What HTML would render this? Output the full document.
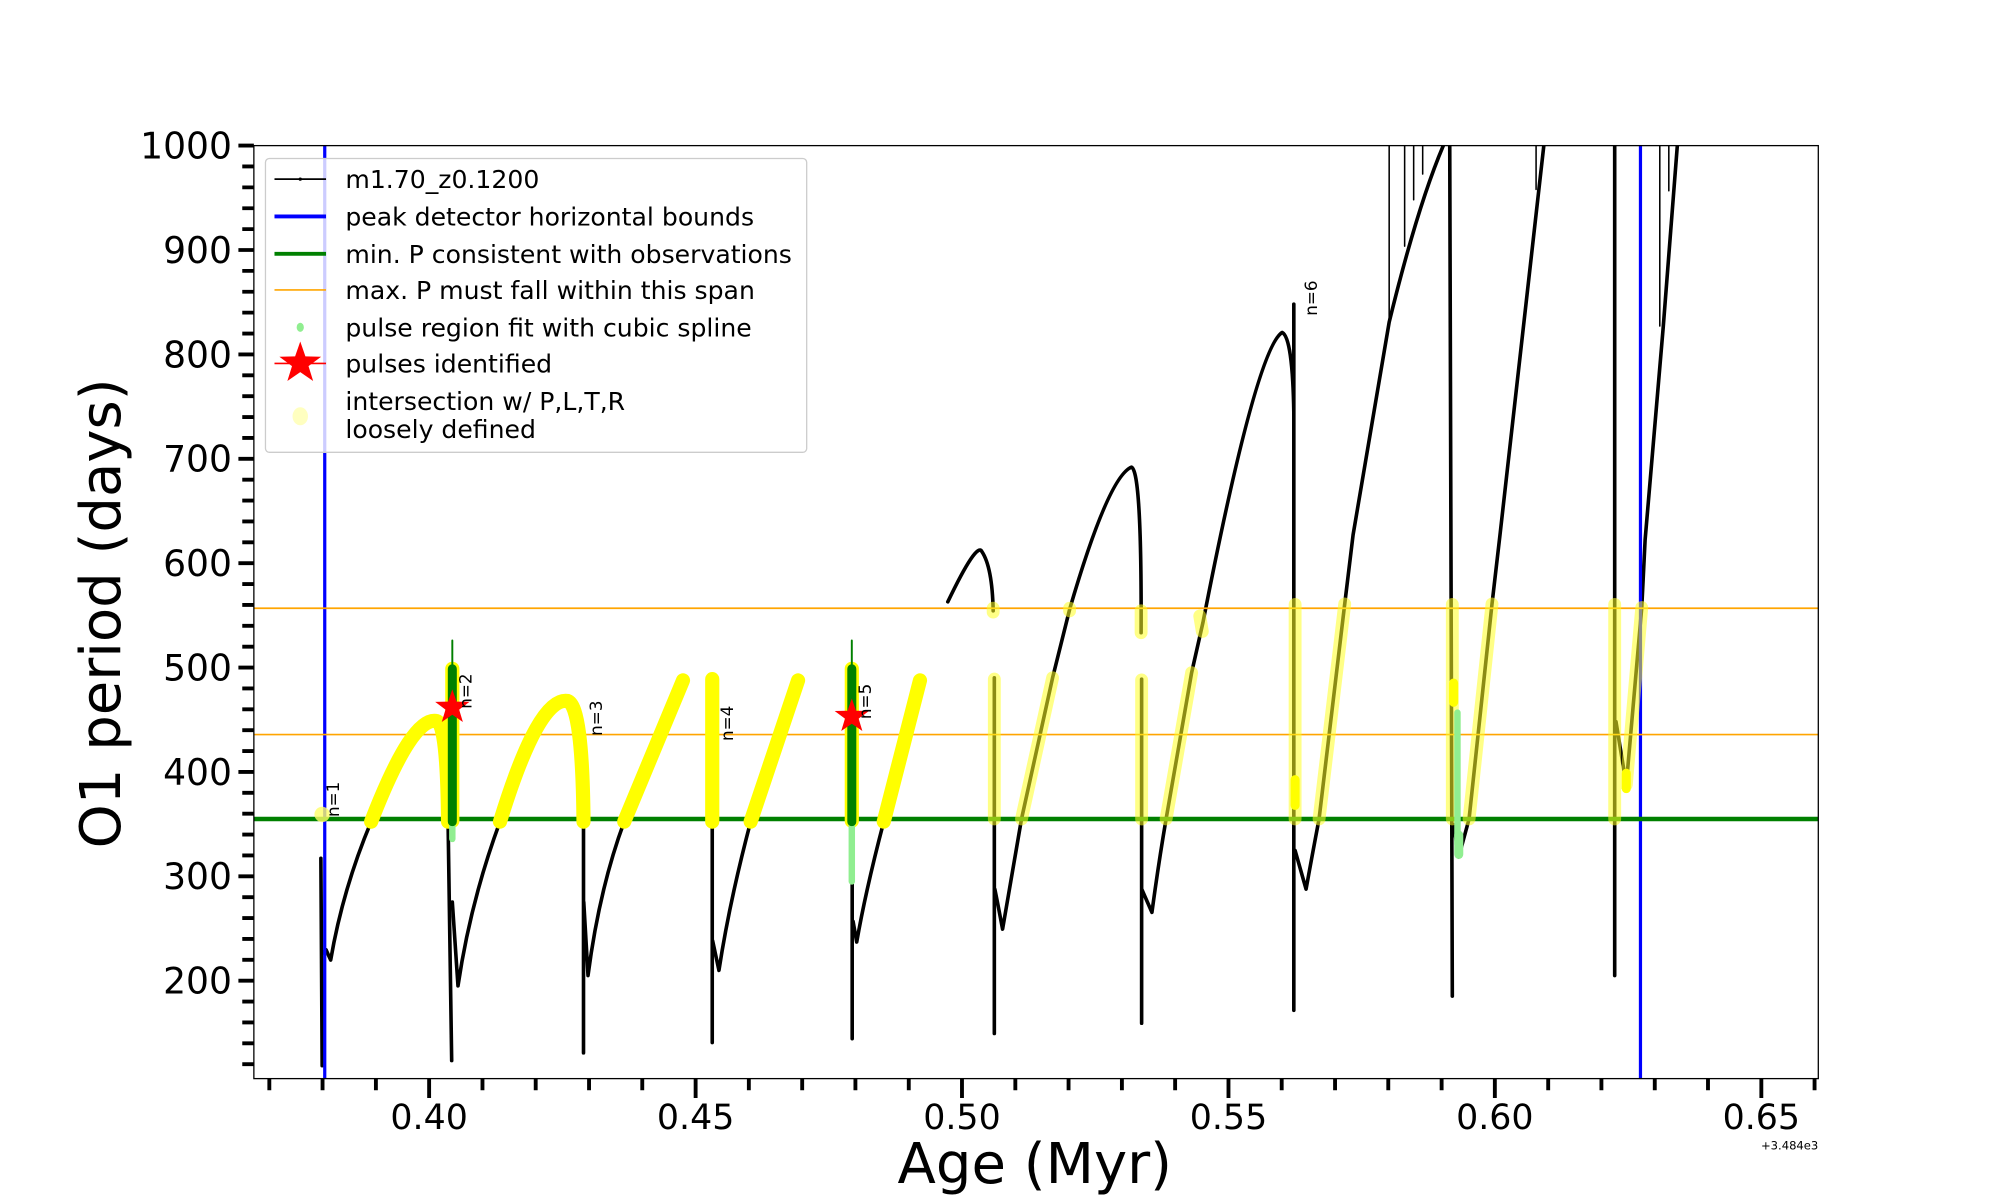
<!DOCTYPE html>
<html><head><meta charset="utf-8"><style>html,body{margin:0;padding:0;background:#fff}svg{display:block}</style></head>
<body>
<svg width="2000" height="1200" viewBox="0 0 1552 931.2" xmlns="http://www.w3.org/2000/svg" font-family="'DejaVu Sans','Liberation Sans',sans-serif">
<defs><clipPath id="c"><rect x="197" y="113" width="1214" height="724"/></clipPath></defs>
<rect width="1552" height="932" fill="#fff"/>
<g clip-path="url(#c)" fill="none" stroke-linecap="round" stroke-linejoin="round">
<g stroke="#000" stroke-width="2.8">
<path d="M249,666 L250,827 M250,740 L253,737 L256.6,745 Q266,690 288,637.6 Q320,555 339,559.6 Q347,562 347.7,637.6 L350.5,823"/>
<path d="M351,700 L355.4,765 Q365,700 388,637.6 Q418,540 440.6,544 Q452,548 452.8,637.6 L452.8,817 M453,700 L456.3,757 Q465,690 484.4,637.6 L530,528"/>
<path d="M552.7,527 L552.7,809 M553,730 L557.9,753 Q566,700 582.5,637.6 L619.3,528"/>
<path d="M661.3,519 L661.3,806 M662,715 L664.8,731 Q672,690 685.8,637.6 L713.9,528"/>
<path d="M735.5,467 Q758,420 761.9,428 Q770,440 770.7,474 M771.6,526 L771.6,802 M772,690 L774,700 L778,721 Q785,680 792.7,635.5 L816.8,526 L830,473 Q860,370 878,362.5 Q886,365 885.5,491 M885.9,527 L885.9,794 M886,690 L893.9,708 Q899,670 904.9,635.5 L924.7,522 L933.5,483 Q975,270 995,258 Q1003,262 1004,320 M1004,236 L1004,784 M1005,660 L1013.5,690 Q1018,665 1023.6,635.5 L1043.5,468.7 L1050,415 L1078,250 Q1100,160 1120,113"/>
<path d="M1125,113 L1127,773 M1128,640 L1132,665 L1140,635.5 L1157.8,468.7 L1164,415 L1198,113"/>
<path d="M1253,113 L1253,757 M1254,560 L1262,609 L1274,471.5 L1276.6,419 L1290.7,253.4 L1301.6,113"/>
</g>
<g stroke="#000" stroke-width="1.2">
<path d="M1078,113 V249 M1090,113 V191 M1097,113 V155 M1104,113 V135 M1192,113 V147 M1288,113 V253 M1295,113 V148"/>
</g>
<path d="M252,113 V837 M1273,113 V837" stroke="#0000ff" stroke-width="2.5"/>
<path d="M197,635.5 H1411" stroke="#008000" stroke-width="3.5"/>
<path d="M197,472 H1411 M197,570 H1411" stroke="#ffa500" stroke-width="1.3"/>
<g stroke="#ffff00" stroke-width="11">
<path d="M288,637.6 Q320,555 339,559.6 Q347,562 347.7,637.6"/>
<path d="M351,519 L351,637"/>
<path d="M388,637.6 Q418,540 440.6,544 Q452,548 452.8,637.6"/>
<path d="M484.4,637.6 L530,528"/>
<path d="M552.7,527 L552.7,637.6 M582.5,637.6 L619.3,528"/>
<path d="M661,519 L661,637 M685.8,637.6 L713.9,528"/>
</g>
<circle cx="250" cy="632" r="6" fill="#ffff66" opacity="0.8"/>
<g stroke="#ffff22" stroke-width="10" opacity="0.55">
<path d="M770.7,472 L770.7,475 M771.6,527 L771.6,635.5 M792.7,635.5 L816.8,526 M830,472 L830,474 M885.5,474 L885.5,491 M885.9,527.6 L885.9,635.5 M904.9,635.5 L924.7,522 M931,478 L933,490 M1005,469 L1005,635.5 M1023.6,635.5 L1043.5,468.7 M1127,469 L1127,635.5 M1140,635.5 L1157.8,468.7 M1253,469 L1253,635.5 M1253,600 L1262,609 L1274,471.5"/>
</g>
<path d="M1128,530 V545 M1005,605 V625 M1262,600 V612" stroke="#ffff00" stroke-width="7"/>
<path d="M351,637.6 V651 M661,637.6 V684 M1131,553 V655" stroke="#90ee90" stroke-width="5"/>
<path d="M1132,648 V663" stroke="#90ee90" stroke-width="7"/>
<path d="M351,519 V637.6 M661,519 V637.6" stroke="#008000" stroke-width="7"/>
<path d="M351,497 V520 M661,497 V520" stroke="#008000" stroke-width="1.5"/>
<g fill="#ff0000">
<polygon transform="translate(351,549)" points="0,-14 3.3,-4.5 13.3,-4.3 5.3,1.7 8.2,11.3 0,5.6 -8.2,11.3 -5.3,1.7 -13.3,-4.3 -3.3,-4.5"/>
<polygon transform="translate(661,556)" points="0,-14 3.3,-4.5 13.3,-4.3 5.3,1.7 8.2,11.3 0,5.6 -8.2,11.3 -5.3,1.7 -13.3,-4.3 -3.3,-4.5"/>
</g>
</g>
<g font-size="13" fill="#000">
<text transform="translate(263,634) rotate(-90)">n=1</text>
<text transform="translate(366,550) rotate(-90)">n=2</text>
<text transform="translate(467,571) rotate(-90)">n=3</text>
<text transform="translate(569,575) rotate(-90)">n=4</text>
<text transform="translate(676,558) rotate(-90)">n=5</text>
<text transform="translate(1022,245) rotate(-90)">n=6</text>
</g>
<rect x="197" y="113" width="1214" height="724" fill="none" stroke="#000" stroke-width="1"/>
<g stroke="#000" stroke-width="3">
<path d="M185,113H197M185,194H197M185,275H197M185,356H197M185,437H197M185,518H197M185,599H197M185,680H197M185,761H197"/>
<path d="M188,129.2H197M188,145.4H197M188,161.6H197M188,177.8H197M188,210.2H197M188,226.4H197M188,242.6H197M188,258.8H197M188,291.2H197M188,307.4H197M188,323.6H197M188,339.8H197M188,372.2H197M188,388.4H197M188,404.6H197M188,420.8H197M188,453.2H197M188,469.4H197M188,485.6H197M188,501.8H197M188,534.2H197M188,550.4H197M188,566.6H197M188,582.8H197M188,615.2H197M188,631.4H197M188,647.6H197M188,663.8H197M188,696.2H197M188,712.4H197M188,728.6H197M188,744.8H197M188,777.2H197M188,793.4H197M188,809.6H197M188,825.8H197"/>
</g>
<g font-size="28" text-anchor="end" fill="#000">
<text x="180" y="123">1000</text><text x="180" y="204">900</text><text x="180" y="285">800</text><text x="180" y="366">700</text><text x="180" y="447">600</text><text x="180" y="528">500</text><text x="180" y="609">400</text><text x="180" y="690">300</text><text x="180" y="771">200</text>
</g>
<g stroke="#000" stroke-width="3">
<path d="M333,837V852M539.8,837V852M746.5,837V852M953.3,837V852M1160,837V852M1366.8,837V852"/>
<path d="M209,837V846M250.3,837V846M291.7,837V846M374.4,837V846M415.7,837V846M457.1,837V846M498.4,837V846M581.1,837V846M622.5,837V846M663.8,837V846M705.2,837V846M787.9,837V846M829.2,837V846M870.6,837V846M911.9,837V846M994.6,837V846M1036,837V846M1077.3,837V846M1118.7,837V846M1201.4,837V846M1242.7,837V846M1284.1,837V846M1325.4,837V846M1408.1,837V846"/>
</g>
<g font-size="27" text-anchor="middle" fill="#000">
<text x="333" y="876">0.40</text><text x="539.8" y="876">0.45</text><text x="746.5" y="876">0.50</text><text x="953.3" y="876">0.55</text><text x="1160" y="876">0.60</text><text x="1366.8" y="876">0.65</text>
</g>
<text x="1411" y="892" font-size="9" text-anchor="end">+3.484e3</text>
<text x="803" y="918" font-size="43.5" text-anchor="middle">Age (Myr)</text>
<text transform="translate(93,476) rotate(-90)" font-size="43.5" text-anchor="middle">O1 period (days)</text>
<rect x="206" y="123" width="420" height="228" rx="3" fill="#fff" fill-opacity="0.8" stroke="#cccccc" stroke-width="1"/>
<g stroke-linecap="butt">
<path d="M213,139H253" stroke="#000" stroke-width="1.3"/><circle cx="233" cy="139" r="1.3" fill="#000"/>
<path d="M213,168H253" stroke="#0000ff" stroke-width="3"/>
<path d="M213,197H253" stroke="#008000" stroke-width="3"/>
<path d="M213,225H253" stroke="#ffa500" stroke-width="1.3"/>
<ellipse cx="233" cy="254" rx="2.8" ry="3.5" fill="#90ee90"/>
<path d="M213,282H253" stroke="#ff0000" stroke-width="1.3"/>
<polygon transform="translate(233,282)" fill="#ff0000" points="0,-17 4,-5.5 16.2,-5.2 6.4,2.1 10,13.7 0,6.8 -10,13.7 -6.4,2.1 -16.2,-5.2 -4,-5.5"/>
<ellipse cx="233" cy="323" rx="6" ry="7" fill="#ffffc0"/>
</g>
<g font-size="19.5" fill="#000">
<text x="268" y="146">m1.70_z0.1200</text>
<text x="268" y="175">peak detector horizontal bounds</text>
<text x="268" y="204">min. P consistent with observations</text>
<text x="268" y="232">max. P must fall within this span</text>
<text x="268" y="261">pulse region fit with cubic spline</text>
<text x="268" y="289">pulses identified</text>
<text x="268" y="318">intersection w/ P,L,T,R</text>
<text x="268" y="340">loosely defined</text>
</g>
</svg>
</body></html>
